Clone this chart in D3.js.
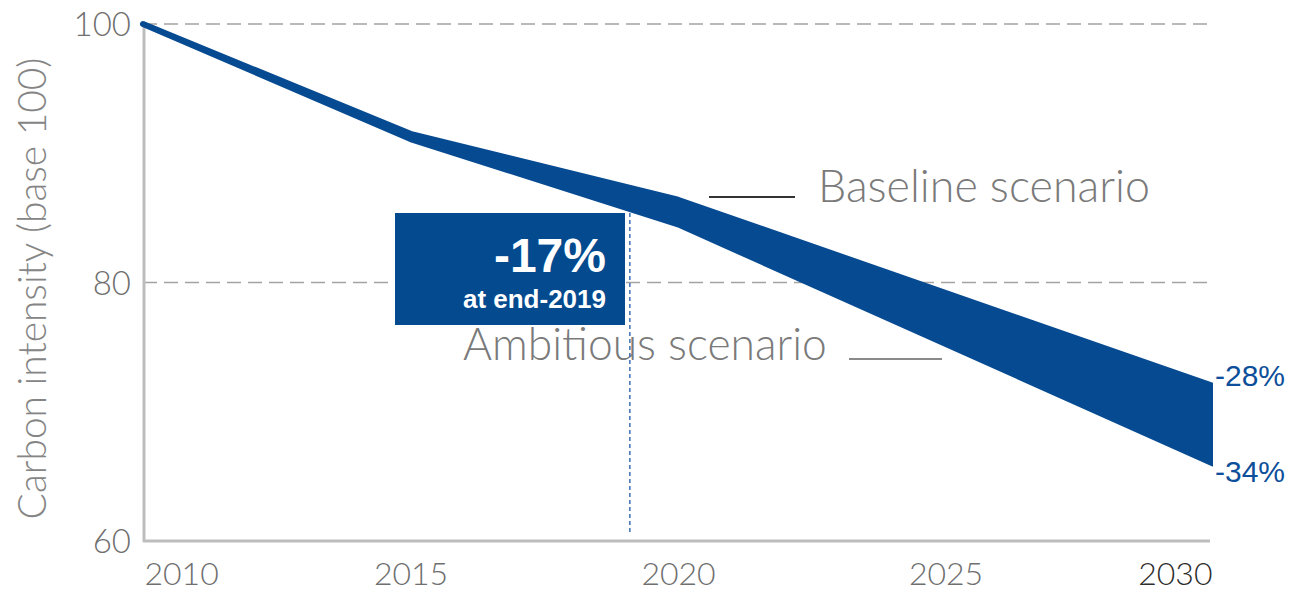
<!DOCTYPE html>
<html>
<head>
<meta charset="utf-8">
<script src="https://cdn.jsdelivr.net/npm/d3@7"></script>
<style>
  html, body { margin: 0; padding: 0; background: #fff; }
  svg { display: block; }
</style>
</head>
<body>
<svg id="chart" width="1291" height="592"></svg>
<script>
// Carbon intensity path, base 100 in 2010
const years = [2010, 2015, 2020, 2030];
const baseline = [100, 91.5, 86.4, 72];   // upper edge of the band
const ambitious = [100, 91.1, 84.5, 66];  // lower edge of the band
const xTicks = [2010, 2015, 2020, 2025, 2030];
const yTicks = [60, 80, 100];
const gridValues = [80, 100];
const endLabels = ["-28%", "-34%"];
const markerYear = 2019.1;
const markerTitle = "-17%";
const markerSub = "at end-2019";
const seriesNames = ["Baseline scenario", "Ambitious scenario"];
const yTitle = "Carbon intensity (base 100)";

const BLUE = "#064a91";
const GREY_TEXT = "#6f6f6f";
const LIGHT_FONT = "Lato, 'Open Sans', sans-serif";

const svg = d3.select("#chart");
const x = d3.scaleLinear().domain([2010, 2030]).range([143, 1213]);
const y = d3.scaleLinear().domain([60, 100]).range([541, 24]);

const data = years.map((yr, i) => ({ yr, hi: baseline[i], lo: ambitious[i] }));

function fitWidth(sel, w) {
  const len = sel.node().getComputedTextLength();
  const fs = parseFloat(sel.attr("font-size"));
  sel.attr("font-size", fs * w / len);
}

// Dashed horizontal gridlines
svg.append("g").selectAll("line").data(gridValues).join("line")
  .attr("x1", x(2010)).attr("x2", x(2030))
  .attr("y1", d => y(d)).attr("y2", d => y(d))
  .attr("stroke", "#a3a3a3").attr("stroke-width", 1.6)
  .attr("stroke-dasharray", "14,7");

// Axis lines
svg.append("line").attr("x1", x(2010) + 1).attr("x2", x(2010) + 1)
  .attr("y1", y(100)).attr("y2", y(60) + 1)
  .attr("stroke", "#bdbdbd").attr("stroke-width", 3);
svg.append("line").attr("x1", x(2010)).attr("x2", x(2030) - 3)
  .attr("y1", y(60)).attr("y2", y(60))
  .attr("stroke", "#bdbdbd").attr("stroke-width", 3);

// Left axis tick labels
const yAxis = svg.append("g")
  .attr("transform", `translate(${x(2010) - 12},0)`)
  .call(d3.axisLeft(y).tickValues(yTicks).tickSize(0).tickPadding(0).tickFormat(d3.format("d")));
yAxis.select(".domain").remove();
yAxis.selectAll("text")
  .attr("font-family", LIGHT_FONT).attr("font-weight", 300)
  .attr("font-size", 33).attr("fill", GREY_TEXT).attr("dy", "0.36em");

// Bottom axis tick labels (end labels kept inside the plot span)
const xAxis = svg.append("g")
  .attr("transform", `translate(0,${y(60)})`)
  .call(d3.axisBottom(x).tickValues(xTicks).tickSize(0).tickPadding(0).tickFormat(d3.format("d")));
xAxis.select(".domain").remove();
xAxis.selectAll("text")
  .attr("font-family", LIGHT_FONT).attr("font-weight", 300)
  .attr("font-size", 32).attr("dy", 0).attr("y", 44)
  .attr("fill", d => d === 2030 ? "#2e2e2e" : GREY_TEXT)
  .attr("text-anchor", d => d === 2010 ? "start" : d === 2030 ? "end" : "middle")
  .attr("x", d => d === 2010 ? 1 : d === 2030 ? -1 : 0);

// Y axis title
const yTitleText = svg.append("text")
  .attr("transform", `translate(46,${(y(60) + y(100)) / 2 + 6}) rotate(-90)`)
  .attr("text-anchor", "middle")
  .attr("font-family", LIGHT_FONT).attr("font-weight", 300)
  .attr("font-size", 33).attr("fill", "#858585")
  .text(yTitle);
fitWidth(yTitleText, 462);

// Scenario band
svg.append("clipPath").attr("id", "bandClip")
  .append("rect").attr("x", 0).attr("y", 0).attr("width", x(2030)).attr("height", 592);

const area = d3.area().x(d => x(d.yr)).y0(d => y(d.lo)).y1(d => y(d.hi));
svg.append("path").datum(data)
  .attr("clip-path", "url(#bandClip)")
  .attr("d", area)
  .attr("fill", BLUE).attr("stroke", BLUE)
  .attr("stroke-width", 6).attr("stroke-linejoin", "round");

// Scenario leader lines and labels
svg.append("line").attr("x1", 709).attr("x2", 795).attr("y1", 197).attr("y2", 197)
  .attr("stroke", "#333").attr("stroke-width", 1.8);
svg.append("line").attr("x1", 849).attr("x2", 942).attr("y1", 359).attr("y2", 359)
  .attr("stroke", "#8a8a8a").attr("stroke-width", 1.8);

const baseText = svg.append("text").attr("x", 818).attr("y", 202)
  .attr("font-family", LIGHT_FONT).attr("font-weight", 300)
  .attr("font-size", 36).attr("fill", "#7a7a7a").text(seriesNames[0]);
fitWidth(baseText, 332);
const ambText = svg.append("text").attr("x", 463).attr("y", 360)
  .attr("font-family", LIGHT_FONT).attr("font-weight", 300)
  .attr("font-size", 36).attr("fill", "#7a7a7a").text(seriesNames[1]);
fitWidth(ambText, 364);

// End-of-period percentages
svg.append("g").selectAll("text").data(endLabels).join("text")
  .attr("x", x(2030) + 2)
  .attr("y", (d, i) => y(i === 0 ? baseline[3] : ambitious[3]) + (i === 0 ? 0 : 19))
  .attr("font-family", "'Liberation Sans', Arial, sans-serif")
  .attr("font-size", 30).attr("fill", "#0d4f9a")
  .text(d => d);

// End-2019 marker
const mx = x(markerYear);
svg.append("line").attr("x1", mx).attr("x2", mx).attr("y1", 213).attr("y2", 533)
  .attr("stroke", "#3f6fb5").attr("stroke-width", 1.5).attr("stroke-dasharray", "4,3");

svg.append("rect").attr("x", 395).attr("y", 213).attr("width", 230).attr("height", 112)
  .attr("fill", "#034a8f");
svg.append("text").attr("x", 606).attr("y", 272).attr("text-anchor", "end")
  .attr("font-family", "'Liberation Sans', Arial, sans-serif").attr("font-weight", "bold")
  .attr("font-size", 48).attr("fill", "#fff").text(markerTitle);
svg.append("text").attr("x", 606).attr("y", 308).attr("text-anchor", "end")
  .attr("font-family", "'Liberation Sans', Arial, sans-serif").attr("font-weight", "bold")
  .attr("font-size", 26).attr("fill", "#fff").text(markerSub);
</script>
</body>
</html>
